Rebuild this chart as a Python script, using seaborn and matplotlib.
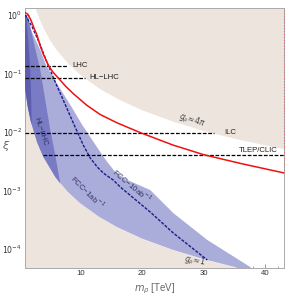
import numpy as np
import pandas as pd
import matplotlib
matplotlib.use("Agg")
import matplotlib.pyplot as plt
import seaborn as sns

# ---- data ----
# strong-coupling limit g_rho ~ 4pi (upper excluded region)
g4pi_m  = [2.0, 2.5, 3, 4, 5, 6, 8, 10, 13, 16, 20, 25, 30, 35, 40, 43]
g4pi_xi = [2.39, 1.53, 1.06, 0.597, 0.382, 0.265, 0.149, 0.0955, 0.0565, 0.0373,
           0.0239, 0.0153, 0.0106, 0.0078, 0.0060, 0.0052]
# weak-coupling limit g_rho ~ 1 (lower excluded region)
g1_m  = [1, 1.5, 2, 3, 4, 6, 8, 10, 13, 16, 20, 25, 30, 35, 40, 43]
g1_xi = [0.0605, 0.0269, 0.0151, 0.00672, 0.00378, 0.00168, 0.000945, 0.000605,
         0.000358, 0.000236, 0.000151, 9.68e-5, 6.72e-5, 4.94e-5, 3.78e-5, 3.27e-5]
# FCC-1ab^-1 reach (light band upper edge)
fcc1_m  = [1.09, 2.38, 3.52, 4.49, 5.62, 7.08, 8.70, 10.32, 11.94, 13.24, 14.38,
           15.67, 17.29, 21.34, 25.07, 30.58, 37.55, 38.5]
fcc1_xi = [1.0, 0.455, 0.252, 0.136, 0.085, 0.0483, 0.0257, 0.0132, 0.0073,
           0.00455, 0.00307, 0.00207, 0.00157, 0.00102, 0.000412, 0.000143, 4.92e-5, 3.6e-5]
# HL-LHC reach (dark band edge)
hl_m  = [1.1, 1.57, 2.38, 3.52, 4.33, 5.14, 5.95, 6.76]
hl_xi = [1.0, 0.9, 0.374, 0.115, 0.0352, 0.0108, 0.00404, 0.00132]
# LHC reach (darkest strip)
lhc_m  = [1.1, 1.25, 1.57, 1.9, 2.06, 2.12]
lhc_xi = [1.0, 1.0, 0.37, 0.115, 0.035, 0.0135]
# FCC-10ab^-1 (dashed navy line)
fcc10_m  = [1.1, 2.22, 3.52, 4.65, 5.95, 7.24, 8.87, 10.48, 11.62, 12.76, 13.73,
            15.35, 16.48, 21.34, 25.07, 30.58]
fcc10_xi = [1.0, 0.623, 0.307, 0.151, 0.0716, 0.0352, 0.0143, 0.0060, 0.0036,
            0.00252, 0.00199, 0.00151, 0.00115, 0.000429, 0.000188, 6.5e-5]
# red curve
red_m  = [1.05, 1.5, 2.0, 2.5, 3.0, 3.5, 4.0, 4.86, 5.6, 6.48, 7.6, 8.9, 11.0,
          13.2, 16.0, 19.7, 25, 30, 36, 43]
red_xi = [1.1, 1.03, 0.82, 0.6, 0.45, 0.30, 0.215, 0.136, 0.105, 0.083, 0.061,
          0.045, 0.029, 0.020, 0.0143, 0.0098, 0.0060, 0.0041, 0.0029, 0.0020]
# horizontal precision lines: name, xi, m_start, m_end
hl_names = ["LHC", "HL\u2212LHC", "ILC", "TLEP/CLIC"]
hl_vals  = [0.136, 0.085, 0.0097, 0.00404]
hl_start = [1.0, 1.0, 1.0, 4.0]
hl_end   = [8.05, 10.8, 31.6, 43.0]

xticks = [10, 20, 30, 40]
yticks = [1e-4, 1e-3, 1e-2, 1e-1, 1e0]
ytick_labels = [r"$10^{-4}$", r"$10^{-3}$", r"$10^{-2}$", r"$10^{-1}$", r"$10^{0}$"]

# ---- figure ----
sns.set_theme(style="white")
plt.rcParams["font.family"] = ["Liberation Sans", "DejaVu Sans"]
plt.rcParams["mathtext.fontset"] = "dejavusans"

fig = plt.figure(figsize=(2.88, 2.95), dpi=100)
ax = fig.add_axes([0.0858, 0.0925, 0.9002, 0.8805])
ax.set_yscale("log")
XMIN, XMAX, YMIN, YMAX = 1.0, 43.0, 4.8e-5, 1.32
ax.set_xlim(XMIN, XMAX)
ax.set_ylim(YMIN, YMAX)

beige = "#ede4de"
ax.fill_between(g4pi_m, g4pi_xi, [10] * len(g4pi_m), color=beige, lw=0, zorder=1)
ax.fill_between(g1_m, [1e-6] * len(g1_m), g1_xi, color=beige, lw=0, zorder=1)

def g1_back(m_end):
    ms = [m for m in g1_m if m <= m_end]
    xs = [x for m, x in zip(g1_m, g1_xi) if m <= m_end]
    return ms[::-1], xs[::-1]

bm, bx = g1_back(38.5)
ax.fill(list(fcc1_m) + bm + [1.0, 1.0], list(fcc1_xi) + bx + [0.0605, 1.0],
        color="#aaacda", lw=0, zorder=2)
bm, bx = g1_back(6.76)
ax.fill([1.0] + list(hl_m) + bm, [1.0] + list(hl_xi) + bx,
        color="#7a7bc5", lw=0, zorder=3)
bm, bx = g1_back(2.12)
ax.fill([1.0] + list(lhc_m) + bm, [1.0] + list(lhc_xi) + bx,
        color="#5d5dae", lw=0, zorder=4)

sns.lineplot(x=fcc10_m, y=fcc10_xi, sort=False, ax=ax, color="#1c1c86",
             lw=1.0, zorder=6)
ax.lines[-1].set_linestyle((0, (2.2, 1.0)))

for v, s, e in zip(hl_vals, hl_start, hl_end):
    ax.plot([s, e], [v, v], color="black", lw=0.9, ls=(0, (3, 1.3)), zorder=7)

sns.lineplot(x=red_m, y=red_xi, sort=False, ax=ax, color="#ee1111", lw=1.1, zorder=8)
ax.plot([43, 43], [0.0020, YMAX], color="#ee4444", lw=0.8, ls=":", alpha=0.6,
        clip_on=False, zorder=8)

fs = 5.6
tc = "#222222"
ax.text(8.7, 0.136, "LHC", fontsize=fs, color=tc, va="center", ha="left", zorder=9)
ax.text(11.46, 0.085, "HL\u2212LHC", fontsize=fs, color=tc, va="center", ha="left", zorder=9)
ax.text(33.3, 0.0097, "ILC", fontsize=fs, color=tc, va="center", ha="left", zorder=9)
ax.text(41.9, 0.0049, "TLEP/CLIC", fontsize=fs, color=tc, va="center", ha="right", zorder=9)
ax.text(28.1, 0.0154, r"$g_\rho\!\approx\!4\pi$", fontsize=fs, color="#444444",
        rotation=-17, ha="center", va="center", zorder=9)
ax.text(28.6, 6.2e-5, r"$g_\rho\!\approx\!1$", fontsize=fs, color="#444444",
        rotation=-10, ha="center", va="center", zorder=9)
ax.text(3.6, 0.010, "HL\u2212LHC", fontsize=fs, color="#333366",
        rotation=-72, ha="center", va="center", zorder=9)
ax.text(11.13, 0.00094, "FCC\u22121ab$^{-1}$", fontsize=fs, color="#333366",
        rotation=-45, ha="center", va="center", zorder=9)
ax.text(18.4, 0.00124, "FCC\u221210ab$^{-1}$", fontsize=fs, color="#333366",
        rotation=-40, ha="center", va="center", zorder=9)

ax.set_xticks(xticks)
ax.set_xticklabels([str(t) for t in xticks])
ax.set_yticks(yticks)
ax.set_yticklabels(ytick_labels)
ax.xaxis.set_minor_locator(matplotlib.ticker.MultipleLocator(2))
ax.yaxis.set_minor_locator(matplotlib.ticker.LogLocator(base=10, subs=np.arange(2, 10)))
ax.yaxis.set_minor_formatter(matplotlib.ticker.NullFormatter())
ax.tick_params(axis="both", which="major", direction="in", length=3, width=0.6,
               color="#888888", labelsize=5.6, labelcolor="#333333", pad=2,
               bottom=True, left=True)
ax.tick_params(axis="both", which="minor", direction="in", length=1.6, width=0.5,
               color="#888888", bottom=True, left=True)
for sp in ax.spines.values():
    sp.set_color("#aaaaaa")
    sp.set_linewidth(0.7)

ax.set_xlabel(r"$m_\rho$ [TeV]", fontsize=7, color="#666666", labelpad=3)
ax.set_ylabel(r"$\xi$", fontsize=8, color="#666666", rotation=0, va="center", ha="center")
ax.yaxis.set_label_coords(-0.072, 0.47)

fig.savefig("out.png", dpi=100)
